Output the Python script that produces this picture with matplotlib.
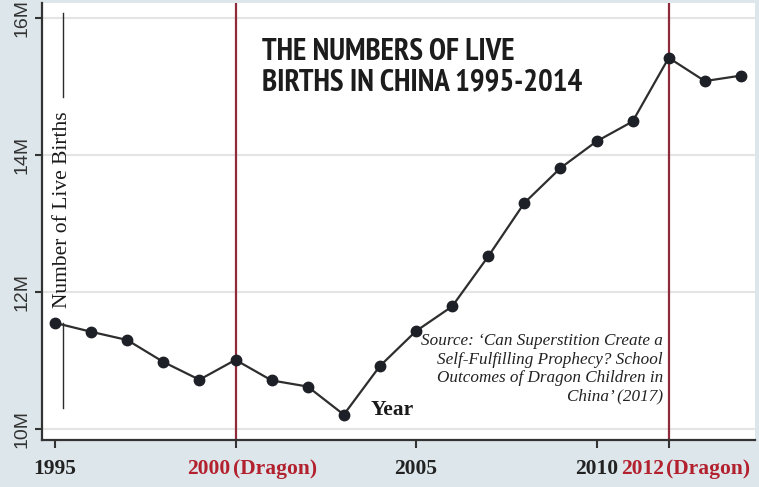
import matplotlib.pyplot as plt
import matplotlib.transforms as mtransforms
from matplotlib import font_manager as fm

# births per year, millions
years = list(range(1995, 2015))
births = [11.55, 11.42, 11.30, 10.98, 10.72, 11.01, 10.71, 10.62, 10.21, 10.92,
          11.43, 11.79, 12.52, 13.30, 13.81, 14.20, 14.49, 15.42, 15.08, 15.16]

dragon_years = [2000, 2012]
xticks = [1995, 2005, 2010]
yticks = [10, 12, 14, 16]
ytick_labels = ["10M", "12M", "14M", "16M"]

title = "THE NUMBERS OF LIVE\nBIRTHS IN CHINA 1995-2014"
source = ("Source: \u2018Can Superstition Create a\n"
          "Self-Fulfilling Prophecy? School\n"
          "Outcomes of Dragon Children in\n"
          "China\u2019 (2017)")

bg = "#dde6ea"
red_line = "#8e2a3a"
red_text = "#b3202e"
dark = "#2b2b2b"
serif = ["Liberation Serif", "DejaVu Serif"]


def is_bold(f):
    w = f.weight
    if isinstance(w, str):
        return w in ("bold", "heavy", "black", "extra bold", "semibold", "demibold")
    return w >= 600


# look for a condensed bold face for the headline
title_font = None
for key in ("narrow", "condensed"):
    for f in fm.fontManager.ttflist:
        tag = (f.name + " " + f.fname).lower()
        if key in tag and is_bold(f) and "oblique" not in tag and "italic" not in tag:
            title_font = fm.FontProperties(fname=f.fname)
            break
    if title_font is not None:
        break
if title_font is None:
    title_font = fm.FontProperties(family="DejaVu Sans", weight="bold")

fig = plt.figure(figsize=(7.59, 4.87), dpi=100, facecolor=bg)
ax = fig.add_axes([42 / 759, 47 / 487, 713 / 759, 437 / 487])
ax.set_facecolor("white")

ax.set_xlim(1994.64, 2014.39)
ax.set_ylim(9.84, 16.22)

for s in ["top", "right"]:
    ax.spines[s].set_visible(False)
for s in ["left", "bottom"]:
    ax.spines[s].set_color("#333333")
    ax.spines[s].set_linewidth(1.6)

ax.set_yticks(yticks)
ax.set_yticklabels(ytick_labels, rotation=90, va="center",
                   family=["Liberation Sans", "DejaVu Sans"], fontsize=14, color="#333333")
ax.set_xticks(xticks + dragon_years)
ax.set_xticklabels([str(x) for x in xticks] + ["", ""],
                   family=serif, fontsize=15.5, fontweight="bold", color="#222222")
ax.tick_params(axis="y", length=5, width=1.5, color="#333333", pad=3)
ax.tick_params(axis="x", length=6, width=1.5, color="#333333", pad=8)
for t in ax.xaxis.get_major_ticks()[-2:]:
    t.tick1line.set_color(red_line)

ax.grid(axis="y", color="#e4e4e4", linewidth=1.5)
ax.set_axisbelow(True)

# dragon year lines and labels
tr = ax.get_xaxis_transform()
off_l = mtransforms.offset_copy(tr, fig=fig, x=-5, units="dots")
off_r = mtransforms.offset_copy(tr, fig=fig, x=-3, units="dots")
for yr in dragon_years:
    ax.axvline(yr, color=red_line, linewidth=1.6, zorder=2)
    ax.text(yr, -0.043, str(yr), transform=off_l, ha="right", va="top",
            family=serif, fontsize=15.5, fontweight="bold", color=red_text)
    ax.text(yr, -0.043, "(Dragon)", transform=off_r, ha="left", va="top",
            family=serif, fontsize=15.5, fontweight="bold", color=red_text)

ax.plot(years, births, color="#2e2e2e", linewidth=1.6, marker="o",
        markersize=7.5, markerfacecolor="#1d2127", markeredgecolor="#1d2127", zorder=3)

# y title drawn inside the plot with rules above and below
ax.text(1995.22, 13.2, "Number of Live Births", rotation=90, ha="center", va="center",
        family=serif, fontsize=15.5, color="#1a1a1a")
ax.plot([1995.22, 1995.22], [14.85, 16.07], color=dark, linewidth=1.0)
ax.plot([1995.22, 1995.22], [10.31, 11.55], color=dark, linewidth=1.0)

ax.text(2004.33, 10.28, "Year", ha="center", va="center",
        family=serif, fontsize=15.5, fontweight="bold", color="#1a1a1a")

# headline: scale the size so the longer line is about 321 px wide
head = ax.text(2000.74, 15.71, title, ha="left", va="top", linespacing=1.12,
               fontproperties=title_font, fontsize=24, color="#1c1c1c")
r = fig.canvas.get_renderer()
probe = fig.text(0, 0, "BIRTHS IN CHINA 1995-2014", fontproperties=title_font, fontsize=24)
w = probe.get_window_extent(r).width
probe.remove()
head.set_fontsize(min(30, 24 * 321 / w))

ax.text(2011.84, 11.40, source, ha="right", va="top", linespacing=1.2,
        family=serif, fontsize=12.3, style="italic", color="#222222")

fig.savefig("out.png", dpi=100, facecolor=bg)
